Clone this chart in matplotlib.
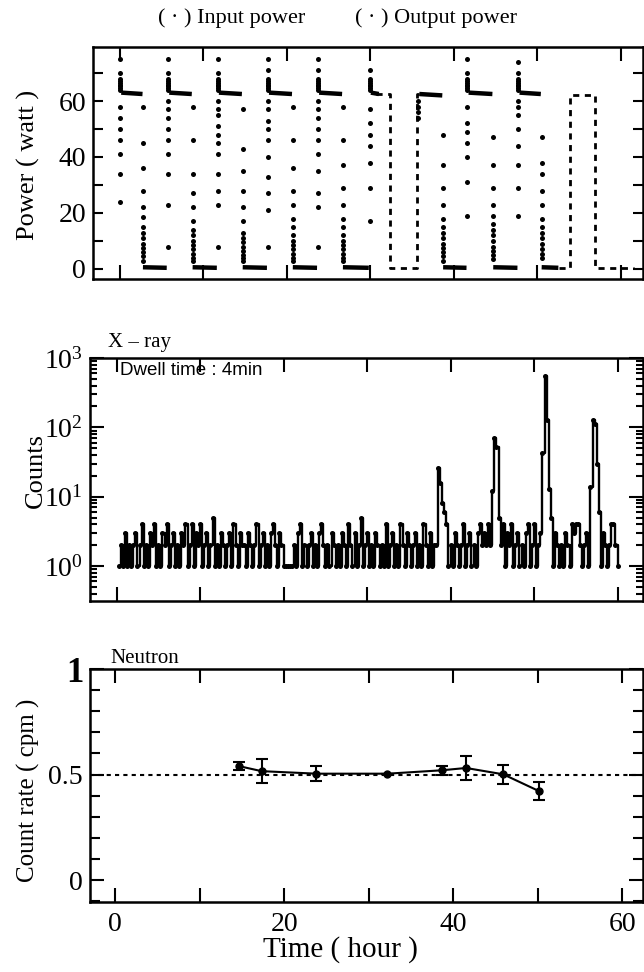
import numpy as np
import matplotlib.pyplot as plt
from matplotlib.ticker import MultipleLocator, FixedLocator, LogLocator, NullFormatter

plt.rcParams['font.family'] = ['Liberation Serif', 'DejaVu Serif']
plt.rcParams['mathtext.fontset'] = 'stix'

# ---------------- power (top panel) ----------------
# cycle start (power on), end of plateau, start of decay, end of low tail  [hour]
rise_t = [0.0, 5.75, 11.7, 17.7, 23.7, 29.9, 35.7, 41.6, 47.7]
top_end = [2.7, 8.6, 14.6, 20.6, 26.6, 31.0, 38.6, 44.6, 50.4]
fall_t = [2.75, 8.7, 14.7, 20.7, 26.7, np.nan, 38.7, 44.7, 50.5]
low_end = [5.6, 11.6, 17.6, 23.6, 29.8, np.nan, 41.5, 47.6, 52.5]
plateau_w = [63.0, 63.0, 63.0, 63.0, 63.0, 63.0, 62.5, 63.0, 63.0]

# output power dots on the rising edge of each cycle [watt]
rise_p = [
    [75, 70, 68, 67.3, 66.6, 65.9, 65.2, 64.5, 63.8, 58, 54, 50, 46, 41, 34, 24],
    [75, 70, 68, 67.3, 66.6, 65.9, 65.2, 64.5, 63.8, 60, 57, 54, 50, 46, 41, 34, 23, 8],
    [75, 70, 68, 67.3, 66.6, 65.9, 65.2, 64.5, 63.8, 60, 57, 55, 51, 48, 45, 41, 34, 28, 23, 8],
    [75, 71, 68, 67.3, 66.6, 65.9, 65.2, 64.5, 63.8, 60, 57, 53, 50, 46, 40, 33, 27, 21, 8],
    [75, 71, 68, 67.3, 66.6, 65.9, 65.2, 64.5, 63.8, 60, 57, 54, 50, 46, 41, 35, 27, 22, 8],
    [71, 68, 67.3, 66.6, 65.9, 65.2, 64.5, 63.8, 57, 52, 48, 44, 38, 29, 17],
    [60, 58, 56, 54],
    [75, 70, 68, 67.3, 66.6, 65.9, 65.2, 64.5, 63.8, 58, 52, 49, 45, 40, 31, 19],
    [74, 70, 68, 67.3, 66.6, 65.9, 65.2, 64.5, 63.8, 60, 58, 55, 50, 44, 37, 29, 19],
]
# output power dots on the decay of each cycle [watt]
fall_p = [
    [58, 45, 36, 28, 22, 18.5, 15, 13, 11, 9, 7.5, 6, 4.5, 3],
    [58, 46, 34, 27, 22, 17, 14, 12, 10, 8.5, 7, 5.5, 4, 3],
    [57, 43, 35, 28, 22, 17, 13, 11, 9.5, 8, 6.5, 5, 4, 3],
    [58, 46, 36, 28, 23, 18, 15, 12, 10, 8.5, 7, 5.5, 4, 3],
    [58, 46, 37, 29, 23, 18, 15, 12, 10, 8.5, 7, 5.5, 4, 3],
    [],
    [48, 37, 29, 23, 18, 15, 13, 11, 9, 7.5, 6, 4.5, 3],
    [47, 37, 29, 23, 19, 16, 14, 12, 10, 8, 6.5, 5, 3.5],
    [47, 38, 34, 28, 23, 18, 15, 13, 11, 9, 7, 5.5, 4],
]
# input power (dashed) where it is not hidden by the output trace
in_t = [30.7, 32.3, 32.3, 35.6, 35.6, 36.2, np.nan, 52.6, 53.9, 53.9, 56.9, 56.9, 61.5]
in_p = [62.5, 62.5, 0.3, 0.3, 62.5, 62.5, np.nan, 0.3, 0.3, 62.2, 62.2, 0.3, 0.3]

# ---------------- X-ray counts (middle panel), 4 min dwell, binned every 15 min ----------------
xray_t0 = 0.2
xray_dt = 0.25
xray_blocks = [
    "12131212312412132412",
    "13241231213241241324",
    "12312512132123142132",
    "21321241231213421321",
    "11112134121231213421",
    "21321213214213125123",
    "12132121412312142132",
    "12312142131222222412",
    "13212412312134232422",
    "22124132412312134124",
    "12322222132121321434",
    "42123122222132124421",
]
spike_idx = [153, 154, 155, 156, 179, 180, 181, 182, 203, 204, 205, 206, 207, 226, 227, 228, 229, 230]
spike_counts = [26, 16, 8, 6, 12, 70, 52, 5, 43, 550, 128, 13, 5, 14, 128, 110, 30, 6]

# ---------------- neutron (bottom panel) ----------------
n_t = [14.6, 17.3, 23.8, 32.2, 38.6, 41.5, 45.9, 50.1]
n_rate = [0.540, 0.516, 0.504, 0.504, 0.520, 0.531, 0.501, 0.422]
n_err = [0.018, 0.057, 0.035, 0.0, 0.020, 0.058, 0.046, 0.042]
n_bg = 0.5

W, H = 644, 972
fig = plt.figure(figsize=(W / 100, H / 100), dpi=100)

def box(l, t, r, b):
    return [l / W, 1 - b / H, (r - l) / W, (b - t) / H]

ax1 = fig.add_axes(box(93, 47, 642.7, 279))
ax2 = fig.add_axes(box(90, 358, 642.7, 601))
ax3 = fig.add_axes(box(90, 669, 642.7, 902))

for ax in (ax1, ax2, ax3):
    for s in ax.spines.values():
        s.set_linewidth(1.8)
    ax.tick_params(which='both', direction='in', top=True, right=True, width=1.5,
                   labelsize=20, pad=5)
    ax.tick_params(which='major', length=10)
    ax.tick_params(which='minor', length=7)
    ax.xaxis.set_major_locator(MultipleLocator(10))

# --- top panel ---
for k in range(len(rise_t)):
    ax1.plot([rise_t[k] + 0.15, top_end[k]], [plateau_w[k], plateau_w[k] - 0.5], c='k', lw=3.2,
             solid_capstyle='butt')
    ax1.plot([rise_t[k]] * len(rise_p[k]), rise_p[k], 'o', c='k', ms=3.6, mew=0)
    if not np.isnan(fall_t[k]):
        ax1.plot([fall_t[k]] * len(fall_p[k]), fall_p[k], 'o', c='k', ms=3.6, mew=0)
        ax1.plot([fall_t[k], low_end[k]], [0.6, 0.4], c='k', lw=3.2, solid_capstyle='butt')
ax1.plot(in_t, in_p, c='k', lw=2.0, ls=(0, (2.2, 2.0)))
ax1.set_xlim(-3.23, 62.6)
ax1.set_ylim(-3.6, 79.3)
ax1.yaxis.set_major_locator(FixedLocator([0, 20, 40, 60]))
ax1.yaxis.set_minor_locator(FixedLocator([10, 30, 50, 70]))
ax1.tick_params(axis='y', which='both', length=7)
ax1.tick_params(labelbottom=False)

# --- middle panel ---
xray_counts = np.array([int(c) for c in "".join(xray_blocks)], float)
xray_counts[spike_idx] = spike_counts
xray_t = xray_t0 + xray_dt * np.arange(len(xray_counts))
ax2.step(xray_t, xray_counts, where='post', c='k', lw=1.7)
ax2.plot(xray_t, xray_counts, 'o', c='k', ms=3.6, mew=0)
ax2.set_yscale('log')
ax2.set_xlim(-3.23, 62.96)
ax2.set_ylim(0.313, 1000)
ax2.yaxis.set_major_locator(LogLocator(base=10, numticks=10))
ax2.yaxis.set_minor_locator(LogLocator(base=10, subs=np.arange(2, 10), numticks=10))
ax2.yaxis.set_minor_formatter(NullFormatter())
ax2.tick_params(axis='y', which='minor', length=5)
ax2.tick_params(labelbottom=False)
ax2.text(120 / W, 1 - 375 / H, 'Dwell time : 4min', transform=fig.transFigure,
         family='Liberation Sans', fontsize=13.5, va='baseline')

# --- bottom panel ---
ax3.axhline(n_bg, c='k', lw=1.5, ls=(0, (2.0, 2.0)))
ax3.errorbar(n_t, n_rate, yerr=n_err, fmt='-o', c='k', ms=5, lw=1.5, elinewidth=1.5,
             capsize=4, capthick=1.5)
ax3.set_xlim(-3.0, 62.4)
ax3.set_ylim(-0.104, 1.0)
ax3.xaxis.set_major_locator(FixedLocator([0, 20, 40, 60]))
ax3.xaxis.set_minor_locator(FixedLocator([10, 30, 50]))
ax3.tick_params(axis='x', which='minor', length=10)
ax3.yaxis.set_major_locator(FixedLocator([0, 0.5, 1]))
ax3.yaxis.set_minor_locator(MultipleLocator(0.1))
ax3.set_yticklabels(['0', '0.5', '1'])
lab1 = ax3.get_yticklabels()[2]
lab1.set_fontweight('bold')
lab1.set_fontsize(25)
ax3.tick_params(axis='x', pad=7)

# --- texts ---
fig.text(158 / W, 1 - 18 / H, '( · ) Input power', fontsize=16, va='center')
fig.text(355 / W, 1 - 18 / H, '( · ) Output power', fontsize=16, va='center')
fig.text(108 / W, 1 - 347 / H, 'X – ray', fontsize=15, va='baseline')
fig.text(110 / W, 1 - 663 / H, 'Neutron', fontsize=15, va='baseline')
fig.text(28 / W, 1 - 165 / H, 'Power ( watt )', fontsize=19, rotation=90, ha='center', va='center')
fig.text(36 / W, 1 - 470 / H, 'Counts', fontsize=19, rotation=90, ha='center', va='center')
fig.text(28 / W, 1 - 790 / H, 'Count rate ( cpm )', fontsize=18, rotation=90, ha='center', va='center')
fig.text(340 / W, 1 - 950 / H, 'Time ( hour )', fontsize=21, ha='center', va='center')

fig.savefig('out.png', dpi=100)
